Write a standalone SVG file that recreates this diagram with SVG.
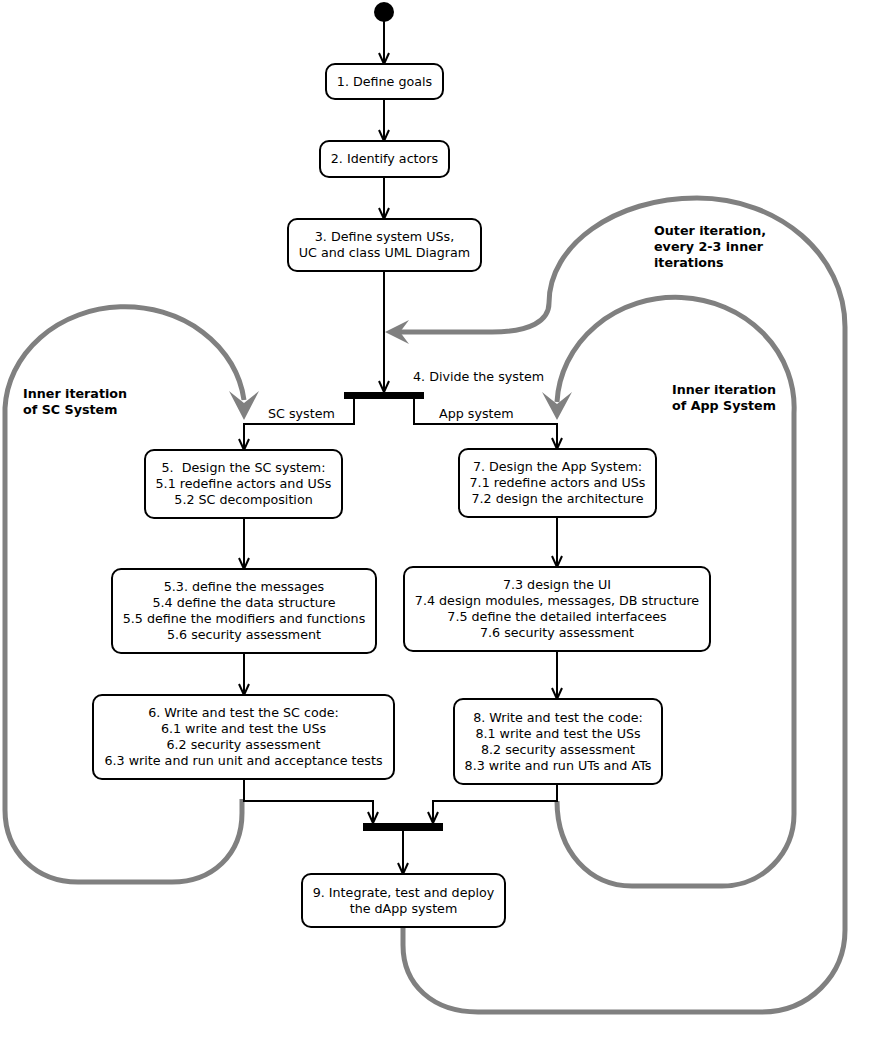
<svg xmlns="http://www.w3.org/2000/svg" width="871" height="1038" viewBox="0 0 871 1038">
<style>
.box{fill:#fff;stroke:#000;stroke-width:2}
.ln{fill:none;stroke:#000;stroke-width:2}
.ah{fill:none;stroke:#000;stroke-width:2}
.loop{fill:none;stroke:#808080;stroke-width:5}
.gh{fill:#808080;stroke:none}
.bar{fill:#000}
text{font-family:"DejaVu Sans","Liberation Sans",sans-serif;font-size:12.7px;fill:#000;white-space:pre}
.c{text-anchor:middle}
.b{font-weight:bold}
</style>
<rect width="871" height="1038" fill="#fff"/>
<g id="connectors">
  <!-- gray iteration loops -->
  <path class="loop" d="M 242,799 L 242,813 C 242,855 212,882 172,882 L 78,882 C 36,882 5,852 5,810 L 5,408 A 120 106 0 0 1 244,400"/>
  <polygon class="gh" points="244,420 229,391 244,403 259,391"/>
  <path class="loop" d="M 557,801 C 557,852 590,886 632,886 L 722,886 C 763,886 794,853 794,814 L 794,413 A 118.5 110 0 0 0 557,402"/>
  <polygon class="gh" points="557,420 542,392 557,404 572,392"/>
  <path class="loop" d="M 403,927 L 403,945 C 403,985 433,1012 478,1012 L 762,1012 C 809,1012 845,975 845,930 L 845,327 C 845,255 779,198 697,198 C 615,198 549,245 549,303 C 549,321 530,332 492,332 L 400,332"/>
  <polygon class="gh" points="385,332 409,320 400,332 409,344"/>
  <!-- black flow -->
  <path class="ln" d="M 384,21 L 384,64"/>
  <path class="ah" d="M 379,53 L 384,64 L 389,53"/>
  <path class="ln" d="M 384,99 L 384,141"/>
  <path class="ah" d="M 379,130 L 384,141 L 389,130"/>
  <path class="ln" d="M 384,177 L 384,219"/>
  <path class="ah" d="M 379,208 L 384,219 L 389,208"/>
  <path class="ln" d="M 384,271 L 384,392"/>
  <path class="ah" d="M 379,381 L 384,392 L 389,381"/>
  <path class="ln" d="M 354,399 L 354,424 L 244,424 L 244,450"/>
  <path class="ah" d="M 239,439 L 244,450 L 249,439"/>
  <path class="ln" d="M 414,399 L 414,424 L 557,424 L 557,449"/>
  <path class="ah" d="M 552,438 L 557,449 L 562,438"/>
  <path class="ln" d="M 244,518 L 244,569"/>
  <path class="ah" d="M 239,558 L 244,569 L 249,558"/>
  <path class="ln" d="M 244,653 L 244,695"/>
  <path class="ah" d="M 239,684 L 244,695 L 249,684"/>
  <path class="ln" d="M 557,517 L 557,567"/>
  <path class="ah" d="M 552,556 L 557,567 L 562,556"/>
  <path class="ln" d="M 557,651 L 557,699"/>
  <path class="ah" d="M 552,688 L 557,699 L 562,688"/>
  <path class="ln" d="M 244,779 L 244,801 L 373,801 L 373,823"/>
  <path class="ah" d="M 368,812 L 373,823 L 378,812"/>
  <path class="ln" d="M 557,784 L 557,801 L 433,801 L 433,823"/>
  <path class="ah" d="M 428,812 L 433,823 L 438,812"/>
  <path class="ln" d="M 403,831 L 403,874"/>
  <path class="ah" d="M 398,863 L 403,874 L 408,863"/>
  <text x="413" y="381">4. Divide the system</text>
  <text x="268" y="418">SC system</text>
  <text x="439" y="418">App system</text>
  <text class="b" x="23" y="398">Inner iteration</text>
  <text class="b" x="23" y="414">of SC System</text>
  <text class="b" x="672" y="394">Inner iteration</text>
  <text class="b" x="672" y="410">of App System</text>
  <text class="b" x="654" y="235">Outer iteration,</text>
  <text class="b" x="654" y="251">every 2-3 inner</text>
  <text class="b" x="654" y="267">iterations</text>
</g>
<g id="start"><circle cx="384" cy="12" r="10" fill="#000"/></g>
<g id="bar-fork"><rect class="bar" x="344" y="392" width="80" height="7"/></g>
<g id="bar-join"><rect class="bar" x="363" y="823" width="80" height="8"/></g>
<g id="n1">
  <rect class="box" x="326" y="64" width="117" height="35" rx="9"/>
  <text class="c" x="384.5" y="86">1. Define goals</text>
</g>
<g id="n2">
  <rect class="box" x="320" y="141" width="129" height="36" rx="9"/>
  <text class="c" x="384.5" y="163">2. Identify actors</text>
</g>
<g id="n3">
  <rect class="box" x="288" y="219" width="193" height="52" rx="9"/>
  <text class="c" x="384.5" y="241">3. Define system USs,</text>
  <text class="c" x="384.5" y="257">UC and class UML Diagram</text>
</g>
<g id="n5">
  <rect class="box" x="145" y="450" width="197" height="68" rx="9"/>
  <text class="c" x="243.5" y="472">5.  Design the SC system:</text>
  <text class="c" x="243.5" y="488">5.1 redefine actors and USs</text>
  <text class="c" x="243.5" y="504">5.2 SC decomposition</text>
</g>
<g id="n5_3">
  <rect class="box" x="112" y="569" width="264" height="84" rx="9"/>
  <text class="c" x="244" y="591">5.3. define the messages</text>
  <text class="c" x="244" y="607">5.4 define the data structure</text>
  <text class="c" x="244" y="623">5.5 define the modifiers and functions</text>
  <text class="c" x="244" y="639">5.6 security assessment</text>
</g>
<g id="n6">
  <rect class="box" x="93" y="695" width="301" height="84" rx="9"/>
  <text class="c" x="243.5" y="717">6. Write and test the SC code:</text>
  <text class="c" x="243.5" y="733">6.1 write and test the USs</text>
  <text class="c" x="243.5" y="749">6.2 security assessment</text>
  <text class="c" x="243.5" y="765">6.3 write and run unit and acceptance tests</text>
</g>
<g id="n7">
  <rect class="box" x="459" y="449" width="197" height="68" rx="9"/>
  <text class="c" x="557.5" y="471">7. Design the App System:</text>
  <text class="c" x="557.5" y="487">7.1 redefine actors and USs</text>
  <text class="c" x="557.5" y="503">7.2 design the architecture</text>
</g>
<g id="n7_3">
  <rect class="box" x="404" y="567" width="306" height="84" rx="9"/>
  <text class="c" x="557" y="589">7.3 design the UI</text>
  <text class="c" x="557" y="605">7.4 design modules, messages, DB structure</text>
  <text class="c" x="557" y="621">7.5 define the detailed interfacees</text>
  <text class="c" x="557" y="637">7.6 security assessment</text>
</g>
<g id="n8">
  <rect class="box" x="454" y="699" width="208" height="85" rx="9"/>
  <text class="c" x="558" y="722">8. Write and test the code:</text>
  <text class="c" x="558" y="738">8.1 write and test the USs</text>
  <text class="c" x="558" y="754">8.2 security assessment</text>
  <text class="c" x="558" y="770">8.3 write and run UTs and ATs</text>
</g>
<g id="n9">
  <rect class="box" x="302" y="874" width="203" height="53" rx="9"/>
  <text class="c" x="403.5" y="897">9. Integrate, test and deploy</text>
  <text class="c" x="403.5" y="913">the dApp system</text>
</g>
</svg>
